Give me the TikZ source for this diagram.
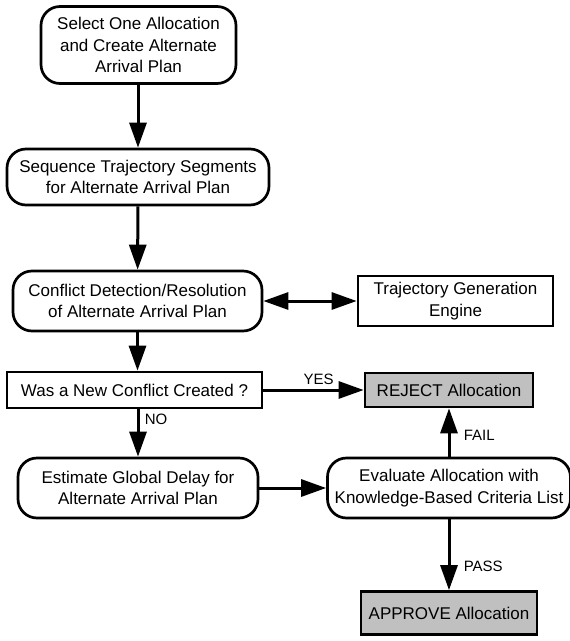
\documentclass[tikz,border=0pt]{standalone}
\usepackage{fontspec}
\setmainfont{Liberation Sans}
\usetikzlibrary{arrows.meta,positioning}
\definecolor{rejgray}{RGB}{192,192,192}
\tikzstyle{arrow} = [line width=3pt,-{Triangle[length=25pt,width=17pt]},color=black]
\tikzstyle{roundbox} = [rectangle, rounded corners=19pt, align=center, draw=black, line width=2.7pt, fill=white, font=\fontsize{17}{21.7}\selectfont]
\tikzstyle{squarebox} = [rectangle, align=center, draw=black, line width=2.7pt, fill=white, font=\fontsize{17}{21.7}\selectfont]
\tikzstyle{resultbox} = [squarebox, fill=rejgray]
\tikzstyle{edgelabel} = [font=\fontsize{15}{17}\selectfont]

\begin{document}
\begin{tikzpicture}[x=1pt,y=-1pt]
\useasboundingbox (0,0) rectangle (570,641);

% Main column
\node[roundbox, minimum width=195pt, minimum height=77pt] (select) at (138.5,45) {Select One Allocation\\and Create Alternate\\Arrival Plan};
\node[roundbox, minimum width=262pt, minimum height=56pt] (sequence) at (138,177) {Sequence Trajectory Segments\\for Alternate Arrival Plan};
\node[roundbox, minimum width=249pt, minimum height=60pt] (conflict) at (137.5,301) {Conflict Detection/Resolution\\of Alternate Arrival Plan};
\node[squarebox, minimum width=255pt, minimum height=36pt] (newconf) at (134.5,390) {Was a New Conflict Created ?};
\node[roundbox, minimum width=240pt, minimum height=60pt] (estimate) at (138,488) {Estimate Global Delay for\\Alternate Arrival Plan};

% Right column
\node[squarebox, minimum width=195pt, minimum height=50pt] (engine) at (455.5,301) {Trajectory Generation\\Engine};
\node[resultbox, minimum width=168pt, minimum height=34pt] (reject) at (449,390) {REJECT Allocation};
\node[roundbox, minimum width=243pt, minimum height=60pt, inner xsep=3pt] (evaluate) at (449,488) {Evaluate Allocation with\\Knowledge-Based Criteria List};
\node[resultbox, minimum width=176pt, minimum height=43pt] (approve) at (449,613) {APPROVE Allocation};

% Connections
\draw[arrow] (select.south -| sequence.north) -- (sequence.north);
\draw[arrow] (sequence) -- (conflict);
\draw[arrow, {Triangle[length=25pt,width=17pt]}-{Triangle[length=25pt,width=17pt]}] (conflict) -- (engine);
\draw[arrow] (conflict.south) -- (conflict.south |- newconf.north);
\draw[arrow] (newconf) -- node[edgelabel, above=1pt, pos=0.55] {YES} (reject);
\draw[arrow] (newconf.south -| estimate.north) -- node[edgelabel, right=2pt, pos=0.22] {NO} (estimate.north);
\draw[arrow] (estimate) -- (evaluate);
\draw[arrow] (evaluate.north -| reject.south) -- node[edgelabel, right=10pt, pos=0.45] {FAIL} (reject.south);
\draw[arrow] (evaluate.south -| approve.north) -- node[edgelabel, right=10pt, pos=0.66] {PASS} (approve.north);
\end{tikzpicture}
\end{document}
